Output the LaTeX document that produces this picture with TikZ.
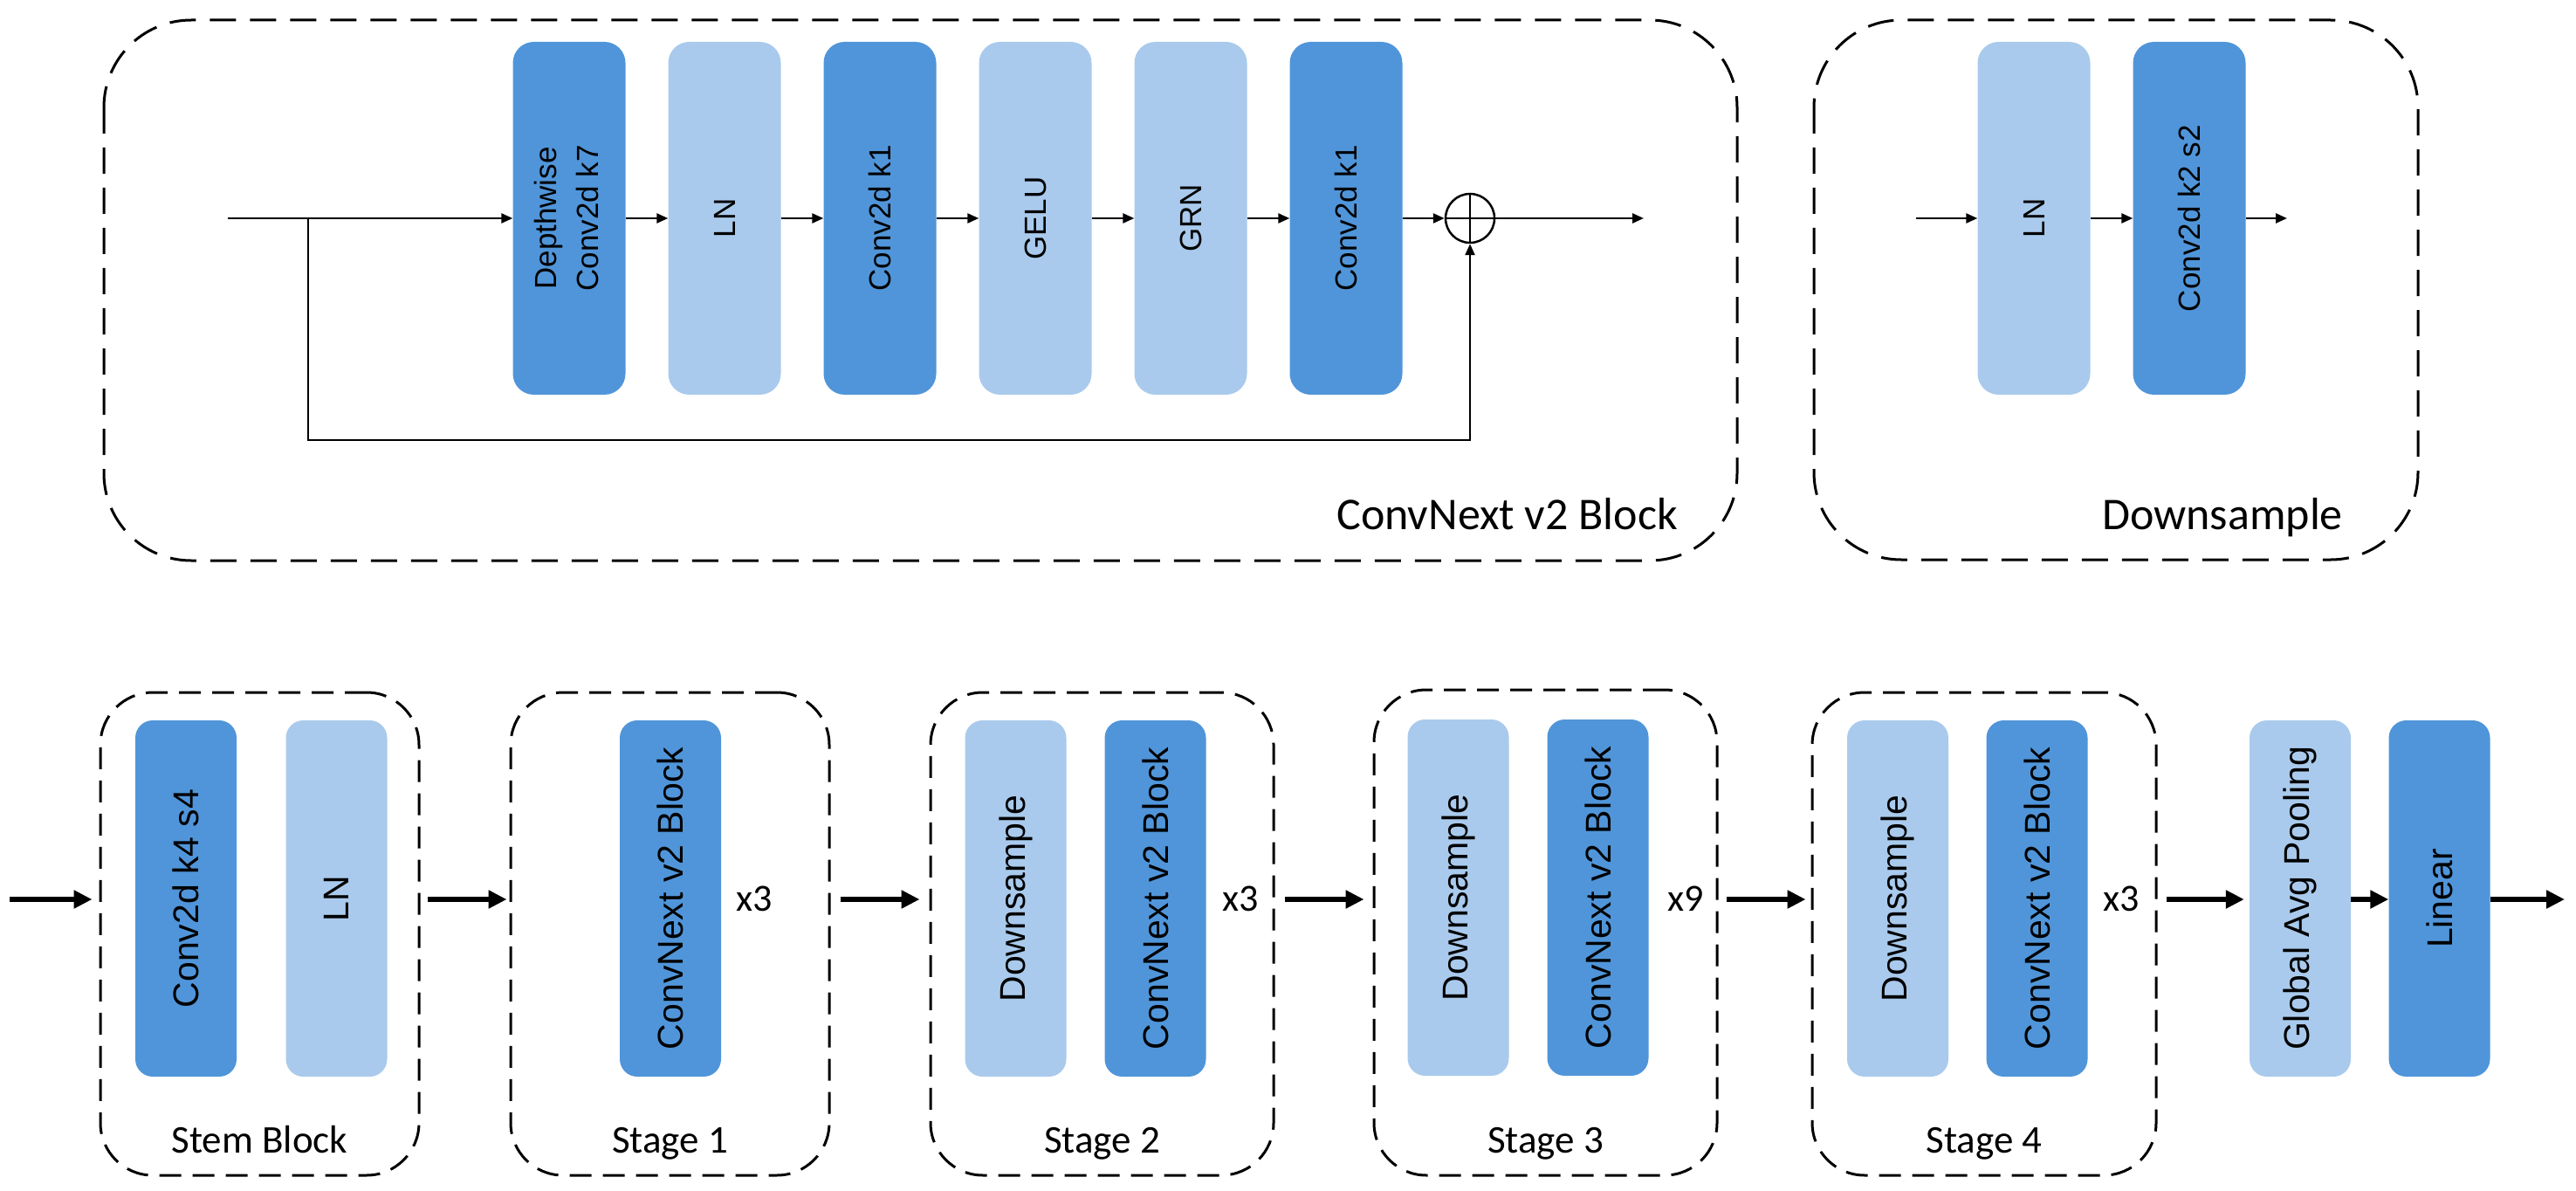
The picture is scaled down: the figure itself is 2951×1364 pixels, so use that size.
\documentclass[tikz,border=0pt]{standalone}
\usepackage{fontspec}
\setmainfont{Liberation Sans}
\newfontfamily\labelfont{Carlito}
\usepackage{graphicx}
\usetikzlibrary{arrows.meta}
\definecolor{dkblue}{HTML}{5095D9}
\definecolor{ltblue}{HTML}{A9CAEC}
\tikzset{
  topblk/.style={rectangle, rounded corners=24pt, inner sep=0pt, minimum width=129pt, minimum height=404pt, font=\fontsize{35}{48}\selectfont},
  botblk/.style={rectangle, rounded corners=20pt, inner sep=0pt, minimum width=116pt, minimum height=408pt, font=\fontsize{41}{48}\selectfont},
  dk/.style={fill=dkblue},
  lt/.style={fill=ltblue},
  bigframe/.style={draw, rectangle, rounded corners=100pt, line width=3pt, dash pattern=on 30pt off 16pt},
  smallframe/.style={draw, rectangle, rounded corners=60pt, line width=3pt, dash pattern=on 25pt off 13pt, inner sep=0pt},
  thinarrow/.style={line width=2.5pt, -{Triangle[length=13pt,width=11pt]}},
  thinline/.style={line width=2.5pt},
  thickarrow/.style={line width=6pt, -{Triangle[length=21pt,width=20pt]}},
  toplabel/.style={font=\labelfont\fontsize{52}{60}\selectfont, inner sep=0pt},
  stagelabel/.style={font=\labelfont\fontsize{45}{54}\selectfont, inner sep=0pt, anchor=base},
  replabel/.style={font=\labelfont\fontsize{44}{54}\selectfont, inner sep=0pt, anchor=base},
}
\newcommand{\rt}[1]{\rotatebox{90}{#1}}
\begin{document}
\begin{tikzpicture}[x=1pt,y=-1pt]
\useasboundingbox (0,0) rectangle (2951,1364);
% ---------- top: ConvNext v2 Block ----------
\draw[bigframe] (119,23) rectangle (1990,642);
\node[topblk,dk] (dw) at (652,250) {\rt{\begin{tabular}{@{}c@{}}Depthwise\\Conv2d k7\end{tabular}}};
\node[topblk,lt] (ln1) at (830,250) {\rt{LN}};
\node[topblk,dk] (ca) at (1008,250) {\rt{Conv2d k1}};
\node[topblk,lt] (gelu) at (1186,250) {\rt{GELU}};
\node[topblk,lt] (grn) at (1364,250) {\rt{GRN}};
\node[topblk,dk] (cb) at (1542,250) {\rt{Conv2d k1}};
\node[circle, draw, line width=2.5pt, minimum size=56pt, inner sep=0pt] (plus) at (1684,250) {};
\draw[thinline] (plus.north) -- (plus.south);
\draw[thinline] (plus.west) -- (plus.east);
\coordinate (tin) at (261,250);
\coordinate (branch) at (353,250);
\coordinate (tout) at (1883,250);
\coordinate (skipl) at (353,504);
\coordinate (skipr) at (1684,504);
\draw[thinarrow] (tin) -- (dw.west);
\draw[thinarrow] (dw) -- (ln1);
\draw[thinarrow] (ln1) -- (ca);
\draw[thinarrow] (ca) -- (gelu);
\draw[thinarrow] (gelu) -- (grn);
\draw[thinarrow] (grn) -- (cb);
\draw[thinarrow] (cb) -- (plus.west);
\draw[thinarrow] (plus.east) -- (tout);
\draw[thinarrow] (branch) -- (skipl) -- (skipr) -- (plus.south);
\node[toplabel, anchor=base east] (lblblock) at (1922,606) {ConvNext v2 Block};
% ---------- top: Downsample ----------
\draw[bigframe] (2078,23) rectangle (2770,641);
\node[topblk,lt] (dsln) at (2330,250) {\rt{LN}};
\node[topblk,dk] (dsconv) at (2508,250) {\rt{Conv2d k2 s2}};
\coordinate (dsin) at (2195,250);
\coordinate (dsout) at (2620,250);
\draw[thinarrow] (dsin) -- (dsln.west);
\draw[thinarrow] (dsln) -- (dsconv);
\draw[thinarrow] (dsconv.east) -- (dsout);
\node[toplabel, anchor=base east] (lblds) at (2684,606) {Downsample};
% ---------- bottom row ----------
\node[smallframe, minimum width=365pt, minimum height=553pt] (stem) at (297.5,1069.5) {};
\node[botblk,dk] (stemconv) at (213,1029) {\rt{Conv2d k4 s4}};
\node[botblk,lt] (stemln) at (385.5,1029) {\rt{LN}};
\node[stagelabel] (lstem) at (297.5,1320) {Stem Block};

\node[smallframe, minimum width=365pt, minimum height=553pt] (s1) at (767.5,1069.5) {};
\node[botblk,dk] (s1blk) at (768,1029) {\rt{ConvNext v2 Block}};
\node[replabel] (r1) at (864,1043) {x3};
\node[stagelabel] (l1) at (767.5,1320) {Stage 1};

\node[smallframe, minimum width=393pt, minimum height=553pt] (s2) at (1262.5,1069.5) {};
\node[botblk,lt] (s2ds) at (1163.5,1029) {\rt{Downsample}};
\node[botblk,dk] (s2blk) at (1323.5,1029) {\rt{ConvNext v2 Block}};
\node[replabel] (r2) at (1421,1043) {x3};
\node[stagelabel] (l2) at (1262.5,1320) {Stage 2};

\node[smallframe, minimum width=393pt, minimum height=556pt] (s3) at (1770.5,1068) {};
\node[botblk,lt] (s3ds) at (1670.5,1028) {\rt{Downsample}};
\node[botblk,dk] (s3blk) at (1830.5,1028) {\rt{ConvNext v2 Block}};
\node[replabel] (r3) at (1931,1043) {x9};
\node[stagelabel] (l3) at (1770.5,1320) {Stage 3};

\node[smallframe, minimum width=394pt, minimum height=553pt] (s4) at (2273,1069.5) {};
\node[botblk,lt] (s4ds) at (2174,1029) {\rt{Downsample}};
\node[botblk,dk] (s4blk) at (2333.5,1029) {\rt{ConvNext v2 Block}};
\node[replabel] (r4) at (2430,1043) {x3};
\node[stagelabel] (l4) at (2273,1320) {Stage 4};

\node[botblk,lt] (gap) at (2635,1029) {\rt{Global Avg Pooling}};
\node[botblk,dk] (lin) at (2794.5,1029) {\rt{Linear}};

\coordinate (bin) at (11,1030);
\coordinate (bout) at (2938,1030);
\draw[thickarrow, shorten >=8pt] (bin) -- (bin -| stem.west);
\draw[thickarrow, shorten <=8pt, shorten >=3pt] (stem.east |- bin) -- (s1.west |- bin);
\draw[thickarrow, shorten <=11pt, shorten >=11pt] (s1.east |- bin) -- (s2.west |- bin);
\draw[thickarrow, shorten <=11pt, shorten >=10pt] (s2.east |- bin) -- (s3.west |- bin);
\draw[thickarrow, shorten <=9pt, shorten >=6pt] (s3.east |- bin) -- (s4.west |- bin);
\draw[thickarrow, shorten <=10pt, shorten >=6pt] (s4.east |- bin) -- (gap.west |- bin);
\draw[thickarrow] (gap.east |- bin) -- (lin.west |- bin);
\draw[thickarrow] (lin.east |- bin) -- (bout);
\end{tikzpicture}
\end{document}
